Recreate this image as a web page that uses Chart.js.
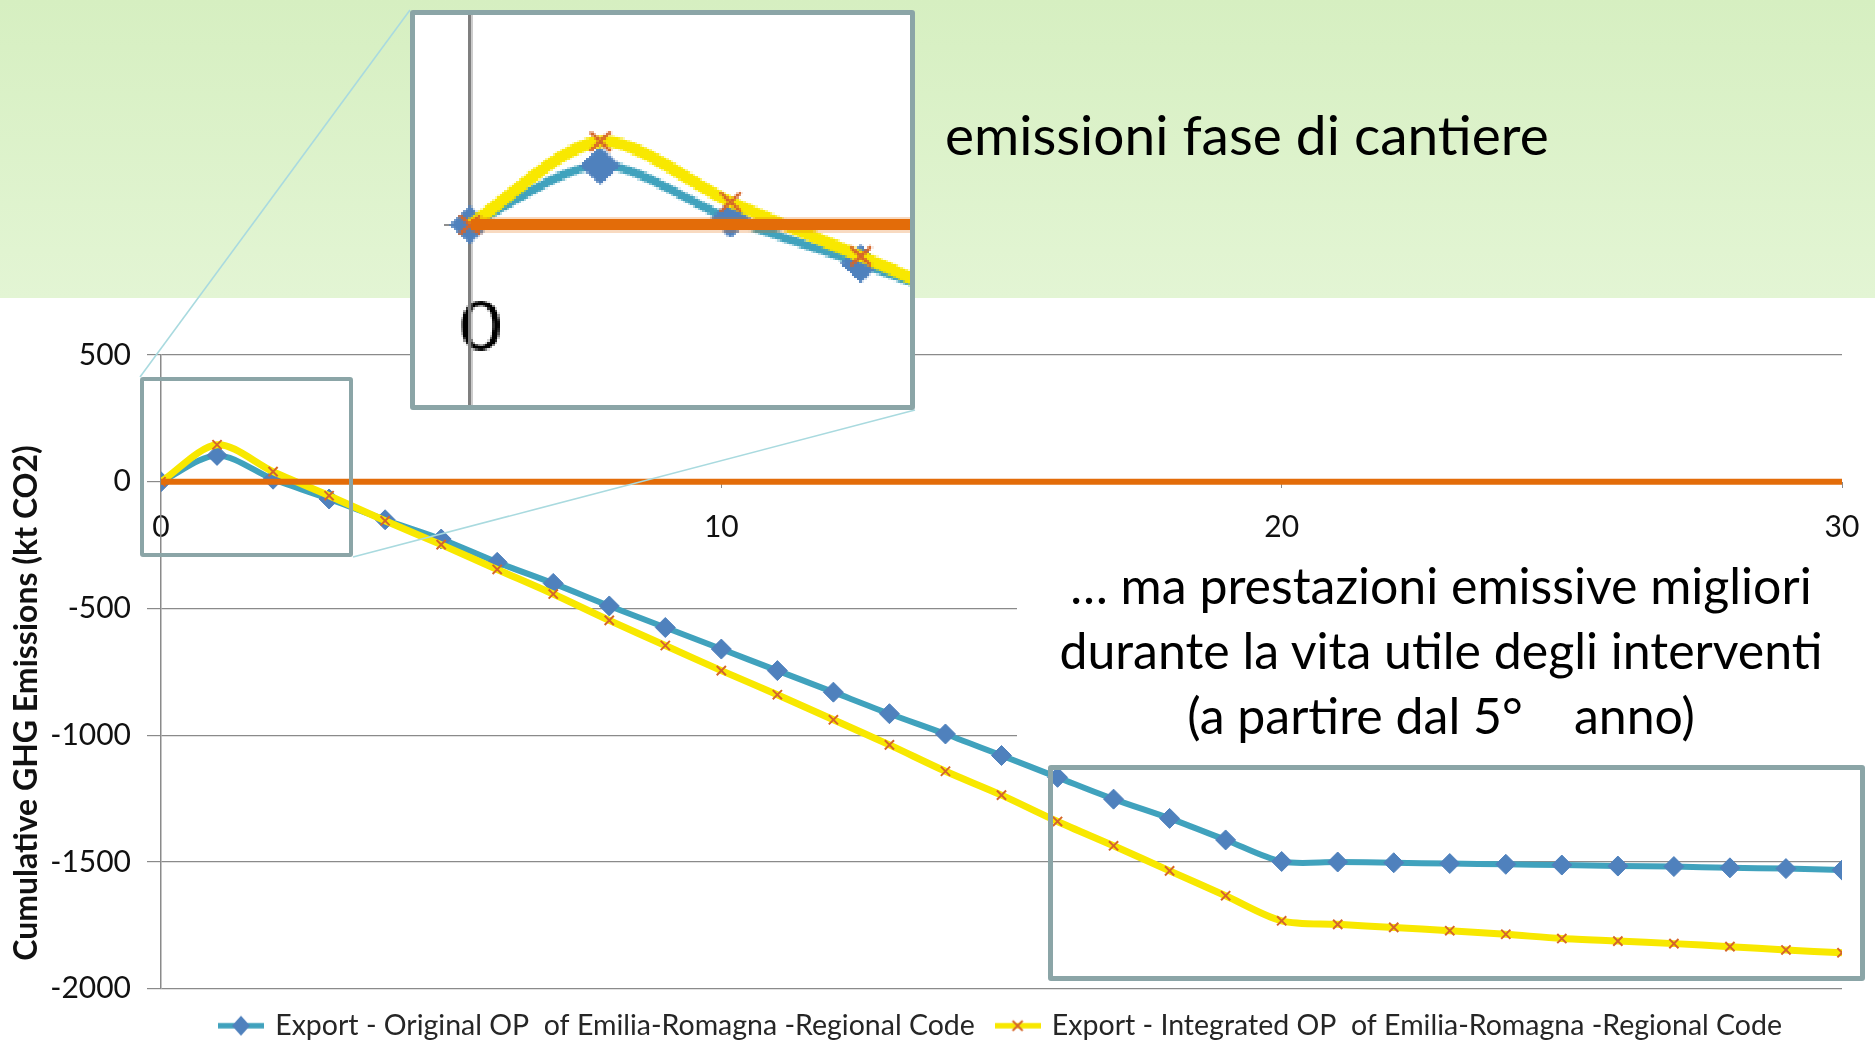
<!DOCTYPE html>
<html>
<head>
<meta charset="utf-8">
<script src="https://cdn.jsdelivr.net/npm/chart.js@4.4.1/dist/chart.umd.min.js"></script>
<style>
  html, body { margin: 0; padding: 0; }
  body { width: 1875px; height: 1042px; position: relative; overflow: hidden; background: #fff; font-family: Lato, sans-serif; }
  #band { position: absolute; left: 0; top: 0; width: 1875px; height: 298px; background: linear-gradient(#d6efc1, #e3f5d4); }
  #main { position: absolute; left: 0; top: 0; }
  #note { position: absolute; left: 1017px; top: 553px; width: 848px; padding-right: 10px; height: 202px; background: #fff;
          text-align: center; font-size: 50px; line-height: 65px; color: #000; white-space: nowrap; }
  .frame { position: absolute; box-sizing: border-box; border: 4px solid #8ba5a7; border-radius: 3px; }
  #links { position: absolute; left: 0; top: 0; }
  #inset { position: absolute; left: 410px; top: 10px; width: 505px; height: 400px; box-sizing: border-box;
           border: 5px solid #8ba5a7; border-radius: 3px; background: #fff; overflow: hidden; }
  #zoom { position: absolute; left: 0; top: 0; transform-origin: 0 0; transform: scale(2.4146, 2.2674); image-rendering: pixelated; }
  #head { position: absolute; left: 945px; top: 104px; font-size: 55px; line-height: 60px; color: #000; white-space: nowrap; }
</style>
</head>
<body>
<div id="band"></div>
<canvas id="main" width="1875" height="1042"></canvas>
<div id="note">… ma prestazioni emissive migliori<br>durante la vita utile degli interventi<br>(a partire dal 5°&nbsp;&nbsp;&nbsp; anno)</div>
<div class="frame" style="left:140px;top:377px;width:213px;height:180px;"></div>
<div class="frame" style="left:1048px;top:765px;width:817px;height:216px;border-width:5px;"></div>
<svg id="links" width="1875" height="1042">
  <line x1="140" y1="377" x2="410" y2="10" stroke="#a9dadf" stroke-width="1.6"/>
  <line x1="353" y1="557" x2="915" y2="410" stroke="#a9dadf" stroke-width="1.6"/>
</svg>
<div id="inset"><canvas id="zoom" width="205" height="172"></canvas></div>
<div id="head">emissioni fase di cantiere</div>

<script>
// years after the works (x axis)
const years = [0, 1, 2, 3, 4, 5, 6, 7, 8, 9, 10, 11, 12, 13, 14, 15, 16, 17, 18, 19, 20,
               21, 22, 23, 24, 25, 26, 27, 28, 29, 30];
// cumulative GHG emissions, kt CO2
const originalOP = [0, 104, 10, -68, -150, -226, -318, -401, -490, -575, -660, -745, -830, -915, -995,
                    -1080, -1166, -1252, -1328, -1413, -1498, -1500, -1503, -1506, -1509, -1512, -1516,
                    -1518, -1523, -1526, -1532];
const integratedOP = [0, 146, 40, -55, -154, -248, -346, -443, -547, -646, -745, -840, -939, -1038, -1142,
                      -1236, -1340, -1436, -1535, -1633, -1732, -1746, -1758, -1771, -1785, -1802, -1812,
                      -1822, -1834, -1847, -1858];
const zeroYears = [0, 30];
const zeroLine = [0, 0];
const seriesNames = ['Export - Original OP  of Emilia-Romagna -Regional Code',
                     'Export - Integrated OP  of Emilia-Romagna -Regional Code'];
const yTicks = [500, 0, -500, -1000, -1500, -2000];
const xTicks = [0, 10, 20, 30];

const blueLine = '#40a2bd';
const blueMark = '#4f81bd';
const yellowLine = '#f8e800';
const xMark = '#d5662a';
const orange = '#e36c09';
const axisGrey = '#8a8a8a';

function pts(xs, ys) {
  return xs.map((x, i) => ({x: x, y: ys[i]}));
}

function makeDatasets(s) {
  return [{
    label: seriesNames[0],
    data: pts(years, originalOP),
    borderColor: blueLine,
    borderWidth: s.blueW,
    tension: 0.3,
    pointStyle: 'rectRot',
    pointRadius: s.diamond,
    pointBackgroundColor: blueMark,
    pointBorderColor: blueMark,
    pointBorderWidth: 1,
    order: 2
  }, {
    label: seriesNames[1],
    data: pts(years, integratedOP),
    borderColor: yellowLine,
    borderWidth: s.yellowW,
    tension: 0.3,
    pointStyle: 'crossRot',
    pointRadius: s.cross,
    pointBorderColor: xMark,
    pointBorderWidth: s.crossW,
    order: 1
  }, {
    label: 'zero',
    data: pts(zeroYears, zeroLine),
    borderColor: orange,
    borderWidth: s.zeroW,
    pointRadius: 0,
    tension: 0,
    order: 0
  }];
}

function legendIcon(i) {
  const c = document.createElement('canvas');
  c.width = 46; c.height = 24;
  const g = c.getContext('2d');
  g.lineWidth = 5.5;
  g.strokeStyle = i === 0 ? blueLine : yellowLine;
  g.beginPath(); g.moveTo(0, 12); g.lineTo(46, 12); g.stroke();
  if (i === 0) {
    g.fillStyle = blueMark;
    g.beginPath(); g.moveTo(23, 2); g.lineTo(32, 12); g.lineTo(23, 22); g.lineTo(14, 12); g.closePath(); g.fill();
  } else {
    g.strokeStyle = xMark; g.lineWidth = 2;
    g.beginPath(); g.moveTo(18, 7); g.lineTo(28, 17); g.moveTo(28, 7); g.lineTo(18, 17); g.stroke();
  }
  return c;
}
const icons = [legendIcon(0), legendIcon(1)];

const onlyTicks = vals => scale => { scale.ticks = vals.map(v => ({value: v})); };
const noPad = scale => { scale.paddingLeft = 0; scale.paddingRight = 0; scale.paddingTop = 0; scale.paddingBottom = 0; };

new Chart(document.getElementById('main'), {
  type: 'line',
  data: {datasets: makeDatasets({blueW: 6, yellowW: 7, diamond: 10, cross: 6.5, crossW: 2, zeroW: 6})},
  options: {
    responsive: false,
    animation: false,
    devicePixelRatio: 1,
    layout: {autoPadding: false, padding: {top: 355, right: 33, bottom: -8, left: 0}},
    plugins: {
      tooltip: {enabled: false},
      legend: {
        position: 'bottom',
        fullSize: false,
        labels: {
          usePointStyle: true,
          pointStyleWidth: 40,
          padding: 22.75,
          color: '#262626',
          font: {family: 'Lato', size: 28.5},
          filter: item => item.datasetIndex < 2,
          sort: (a, b) => a.datasetIndex - b.datasetIndex,
          generateLabels: chart => Chart.defaults.plugins.legend.labels.generateLabels(chart)
            .map(l => Object.assign(l, {pointStyle: icons[l.datasetIndex] || l.pointStyle}))
        }
      }
    },
    scales: {
      x: {
        type: 'linear',
        min: 0, max: 30,
        position: {y: 0},
        afterBuildTicks: onlyTicks(xTicks),
        afterFit: noPad,
        border: {display: false},
        grid: {drawOnChartArea: false, tickLength: 6, color: axisGrey},
        ticks: {color: '#111', padding: 22, font: {family: 'Lato', size: 30}}
      },
      y: {
        min: -2000, max: 500,
        afterBuildTicks: onlyTicks(yTicks),
        afterFit: scale => { noPad(scale); scale.width = 161; },
        border: {display: true, color: axisGrey, width: 1.5},
        grid: {color: axisGrey, lineWidth: 1.2, tickLength: 14},
        ticks: {color: '#111', padding: 16, font: {family: 'Lato', size: 30}, callback: v => String(v)},
        title: {
          display: true,
          text: 'Cumulative GHG Emissions (kt CO2)        ',
          color: '#111',
          padding: {top: 7, bottom: 0},
          font: {family: 'Lato', size: 32, weight: 'bold'}
        }
      }
    }
  }
});

// magnified view of the first years
new Chart(document.getElementById('zoom'), {
  type: 'line',
  data: {datasets: makeDatasets({blueW: 3.8, yellowW: 5.2, diamond: 8, cross: 6, crossW: 1.5, zeroW: 5.6})},
  options: {
    responsive: false,
    animation: false,
    devicePixelRatio: 1,
    layout: {autoPadding: false, padding: 0},
    plugins: {legend: {display: false}, tooltip: {enabled: false}},
    scales: {
      x: {
        type: 'linear',
        min: -0.422, max: 3.378,
        position: {y: 0},
        afterBuildTicks: onlyTicks([0]),
        afterFit: noPad,
        border: {display: false},
        grid: {display: false},
        ticks: {color: '#000', padding: 19.5, labelOffset: 4.5, font: {family: 'Lato', size: 30}}
      },
      y: {
        min: -316, max: 368,
        position: {x: 0},
        afterBuildTicks: onlyTicks([0]),
        afterFit: noPad,
        border: {display: true, color: '#7f7f7f', width: 1.4},
        grid: {drawOnChartArea: false, tickLength: 10, color: '#8f8f8f'},
        ticks: {display: false}
      }
    }
  }
});
</script>
</body>
</html>
